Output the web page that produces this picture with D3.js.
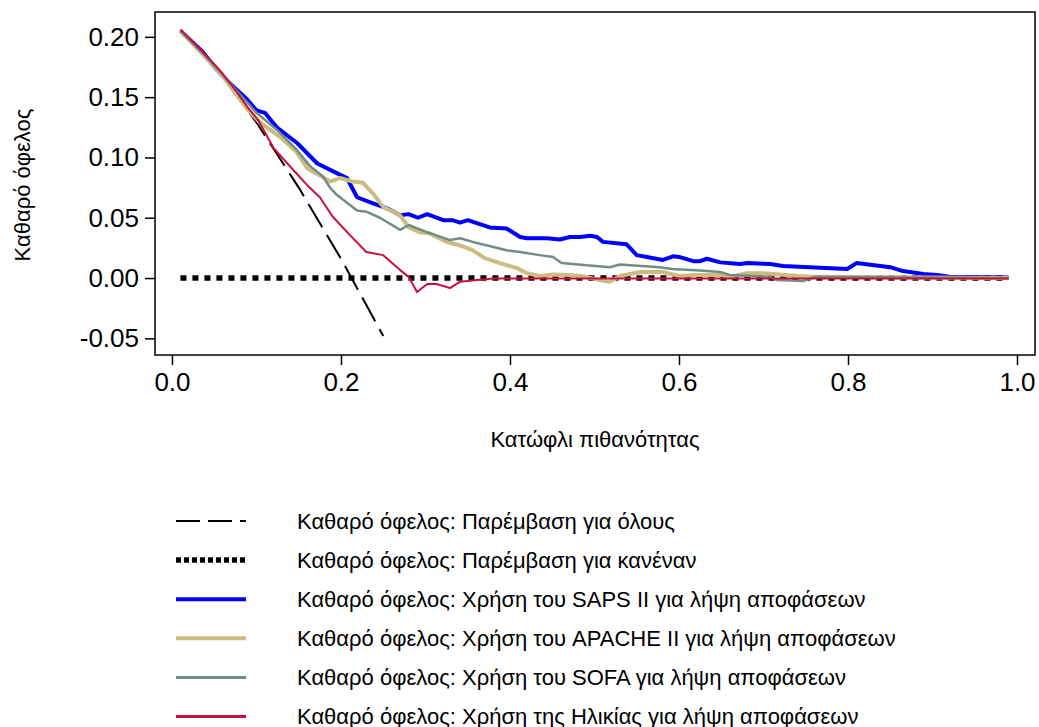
<!DOCTYPE html>
<html>
<head>
<meta charset="utf-8">
<script src="https://cdn.jsdelivr.net/npm/d3@7"></script>
<style>
  body { margin: 0; background: #fff; }
  text { font-family: "Liberation Sans", Arial, sans-serif; fill: #000; }
</style>
</head>
<body>
<div id="chart"></div>
<script>
// thresholds and net benefit as [threshold, value]
var treatAll = [[0.01,0.205],[0.05,0.176],[0.10,0.129],[0.15,0.075],[0.20,0.016],[0.25,-0.048]];
var treatNone = [[0.01,0],[0.99,0]];
var saps = [[0.01,0.205],[0.037,0.187],[0.049,0.176],[0.066,0.163],[0.089,0.148],[0.10,0.139],[0.11,0.137],
  [0.124,0.125],[0.148,0.112],[0.172,0.095],[0.195,0.087],[0.207,0.083],[0.219,0.067],[0.238,0.062],
  [0.254,0.058],[0.27,0.052],[0.28,0.053],[0.291,0.050],[0.302,0.053],[0.321,0.048],[0.332,0.048],
  [0.341,0.046],[0.35,0.048],[0.376,0.042],[0.396,0.041],[0.412,0.034],[0.42,0.033],[0.444,0.033],
  [0.459,0.032],[0.471,0.034],[0.483,0.034],[0.495,0.035],[0.503,0.034],[0.51,0.030],[0.538,0.028],
  [0.55,0.019],[0.562,0.0175],[0.581,0.015],[0.593,0.018],[0.60,0.0175],[0.617,0.014],[0.625,0.014],
  [0.633,0.016],[0.649,0.013],[0.672,0.0116],[0.681,0.0124],[0.708,0.0116],[0.723,0.010],[0.799,0.0075],
  [0.81,0.0124],[0.85,0.009],[0.865,0.0058],[0.889,0.0033],[0.905,0.0025],[0.92,0.001],[0.99,0.0005]];
var apache = [[0.01,0.205],[0.037,0.185],[0.057,0.170],[0.077,0.152],[0.089,0.140],[0.104,0.129],
  [0.128,0.117],[0.148,0.104],[0.16,0.091],[0.175,0.085],[0.187,0.080],[0.199,0.083],[0.214,0.080],
  [0.226,0.079],[0.238,0.070],[0.25,0.059],[0.27,0.052],[0.28,0.042],[0.293,0.038],[0.305,0.037],
  [0.325,0.030],[0.341,0.027],[0.356,0.023],[0.37,0.0166],[0.388,0.0124],[0.408,0.0083],[0.42,0.004],
  [0.435,0.0017],[0.451,0.003],[0.47,0.0025],[0.49,0.001],[0.506,-0.0017],[0.518,-0.003],[0.53,0.0017],
  [0.554,0.005],[0.581,0.005],[0.6,0.0017],[0.62,0.0025],[0.649,0.0025],[0.66,0.001],[0.68,0.004],
  [0.70,0.004],[0.74,0.0017],[0.76,0.001],[0.99,0.0]];
var sofa = [[0.01,0.205],[0.037,0.186],[0.057,0.171],[0.077,0.155],[0.10,0.137],[0.124,0.123],
  [0.148,0.106],[0.163,0.093],[0.179,0.084],[0.187,0.075],[0.195,0.069],[0.219,0.056],[0.23,0.055],
  [0.246,0.050],[0.27,0.040],[0.28,0.044],[0.302,0.038],[0.329,0.0315],[0.341,0.033],[0.361,0.029],
  [0.396,0.023],[0.412,0.0216],[0.435,0.019],[0.451,0.0174],[0.461,0.0124],[0.518,0.009],[0.53,0.0112],
  [0.577,0.009],[0.592,0.0075],[0.625,0.0062],[0.649,0.005],[0.66,0.0025],[0.708,0.001],[0.716,-0.0017],
  [0.747,-0.0025],[0.76,0.001],[0.99,0.0]];
var age = [[0.01,0.206],[0.037,0.187],[0.057,0.172],[0.077,0.154],[0.089,0.142],[0.102,0.131],
  [0.12,0.108],[0.143,0.090],[0.16,0.077],[0.175,0.067],[0.19,0.051],[0.21,0.036],[0.23,0.0216],
  [0.25,0.019],[0.27,0.0066],[0.28,0.001],[0.29,-0.0116],[0.302,-0.005],[0.313,-0.005],[0.329,-0.0083],
  [0.341,-0.003],[0.361,-0.0017],[0.38,-0.0003],[0.99,-0.0003]];

var xTicks = [0, 0.2, 0.4, 0.6, 0.8, 1.0];
var yTicks = [-0.05, 0, 0.05, 0.10, 0.15, 0.20];
var seriesNames = [
  "Καθαρό όφελος: Παρέμβαση για όλους",
  "Καθαρό όφελος: Παρέμβαση για κανέναν",
  "Καθαρό όφελος: Χρήση του SAPS II για λήψη αποφάσεων",
  "Καθαρό όφελος: Χρήση του APACHE II για λήψη αποφάσεων",
  "Καθαρό όφελος: Χρήση του SOFA για λήψη αποφάσεων",
  "Καθαρό όφελος: Χρήση της Ηλικίας για λήψη αποφάσεων"
];
var seriesData = [treatAll, treatNone, saps, apache, sofa, age];

// styles
var colors = ["#000", "#000", "#0000ff", "#cbbd80", "#728e84", "#c8103c"];
var widths = [2, 5.5, 4, 4, 2.5, 2];
var dashes = ["27,9", "6,6", null, null, null, null];
var legendDashes = ["24,8", "5,3", null, null, null, null];

var W = 1039, H = 727;
var plot = {left: 155, right: 1035, top: 12, bottom: 355};

var svg = d3.select("#chart").append("svg")
  .attr("width", W)
  .attr("height", H);

var x = d3.scaleLinear().domain([-0.0201, 1.0213]).range([plot.left, plot.right]);
var y = d3.scaleLinear().domain([-0.0638, 0.2206]).range([plot.bottom, plot.top]);

// axes
var yAxis = svg.append("g")
  .attr("transform", "translate(" + plot.left + ",0)")
  .call(d3.axisLeft(y).tickValues(yTicks).tickSizeInner(10).tickSizeOuter(0).tickPadding(6)
    .tickFormat(function(d) { return d.toFixed(2); }));
var xAxis = svg.append("g")
  .attr("transform", "translate(0," + plot.bottom + ")")
  .call(d3.axisBottom(x).tickValues(xTicks).tickSizeInner(10).tickSizeOuter(0).tickPadding(8)
    .tickFormat(function(d) { return d.toFixed(1); }));
[xAxis, yAxis].forEach(function(a) {
  a.select(".domain").remove();
  a.selectAll(".tick line").attr("stroke", "#000").attr("stroke-width", 1.5);
  a.selectAll(".tick text").style("font-size", "26px").style("font-family", "'Liberation Sans', Arial, sans-serif");
});

svg.append("rect")
  .attr("x", plot.left).attr("y", plot.top)
  .attr("width", plot.right - plot.left).attr("height", plot.bottom - plot.top)
  .attr("fill", "none").attr("stroke", "#000").attr("stroke-width", 1.5);

// lines
var line = d3.line()
  .x(function(d) { return x(d[0]); })
  .y(function(d) { return y(d[1]); });

svg.append("g").selectAll("path")
  .data(seriesData)
  .enter()
  .append("path")
    .attr("d", line)
    .attr("fill", "none")
    .attr("stroke", function(d, i) { return colors[i]; })
    .attr("stroke-width", function(d, i) { return widths[i]; })
    .attr("stroke-dasharray", function(d, i) { return dashes[i]; })
    .attr("stroke-linejoin", "round");

// axis titles
svg.append("text")
  .attr("x", 595)
  .attr("y", 447)
  .attr("text-anchor", "middle")
  .style("font-size", "22px")
  .text("Κατώφλι πιθανότητας");

svg.append("text")
  .attr("transform", "translate(30,185) rotate(-90)")
  .attr("text-anchor", "middle")
  .style("font-size", "22px")
  .text("Καθαρό όφελος");

// legend
var legend = svg.append("g").selectAll("g")
  .data(seriesNames)
  .enter()
  .append("g")
    .attr("transform", function(d, i) { return "translate(0," + (521 + i * 39.1) + ")"; });

legend.append("line")
  .attr("x1", 176).attr("x2", 246)
  .attr("stroke", function(d, i) { return colors[i]; })
  .attr("stroke-width", function(d, i) { return i < 2 ? widths[i] : Math.max(widths[i], 3); })
  .attr("stroke-dasharray", function(d, i) { return legendDashes[i]; });

legend.append("text")
  .attr("x", 297)
  .attr("dy", "0.35em")
  .style("font-size", "22px")
  .text(function(d) { return d; });
</script>
</body>
</html>
